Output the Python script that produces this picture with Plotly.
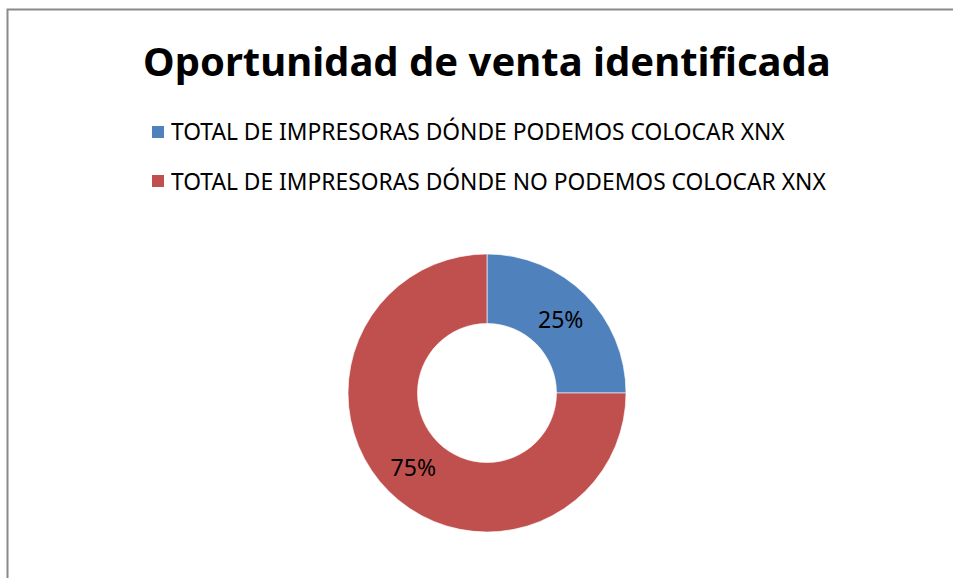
import plotly.graph_objects as go

title_text = "Oportunidad de venta identificada"
labels = ["TOTAL DE IMPRESORAS DÓNDE PODEMOS COLOCAR XNX",
          "TOTAL DE IMPRESORAS DÓNDE NO PODEMOS COLOCAR XNX"]
values = [25, 75]
colors = ["#4F81BD", "#C0504D"]

W, H = 953, 578
FONT = "Noto Sans"

fig = go.Figure()
cx, cy, r = 487, 393, 139
fig.add_trace(go.Pie(
    labels=labels, values=values, hole=0.5, sort=False, direction="clockwise",
    rotation=0,
    marker=dict(colors=colors, line=dict(color="rgba(255,255,255,0.6)", width=1)),
    texttemplate="%{percent:.0%}", textposition="inside", insidetextorientation="horizontal",
    textfont=dict(family=FONT, size=23, color="black"),
    showlegend=False, hoverinfo="label+percent",
    domain=dict(x=[(cx - r) / W, (cx + r) / W], y=[(H - cy - r) / H, (H - cy + r) / H]),
))

shapes = [dict(type="rect", xref="paper", yref="paper",
               x0=7.5 / W, x1=1.05, y0=-0.05, y1=(H - 9.5) / H,
               line=dict(color="#8A8A8A", width=2), fillcolor="rgba(0,0,0,0)", layer="below")]
annotations = []
leg_y = [132, 181]
for lab, col, y in zip(labels, colors, leg_y):
    shapes.append(dict(type="rect", xref="paper", yref="paper",
                       x0=152 / W, x1=164 / W, y0=(H - y - 6) / H, y1=(H - y + 6) / H,
                       fillcolor=col, line=dict(width=0)))
    annotations.append(dict(text=lab, xref="paper", yref="paper", x=169 / W, y=(H - y) / H,
                            xanchor="left", yanchor="middle", showarrow=False,
                            font=dict(family=FONT, size=22.8, color="black")))

annotations.append(dict(text="<b>" + title_text + "</b>", xref="paper", yref="paper",
                        x=487.5 / W, y=(H - 61) / H, xanchor="center", yanchor="middle",
                        showarrow=False, font=dict(family=FONT, size=40, color="black")))

fig.update_layout(width=W, height=H, margin=dict(l=0, r=0, t=0, b=0),
                  paper_bgcolor="white", plot_bgcolor="white",
                  shapes=shapes, annotations=annotations)
fig.write_html("out.html", config={"displayModeBar": False},
               post_script="document.body.style.margin='0';")
